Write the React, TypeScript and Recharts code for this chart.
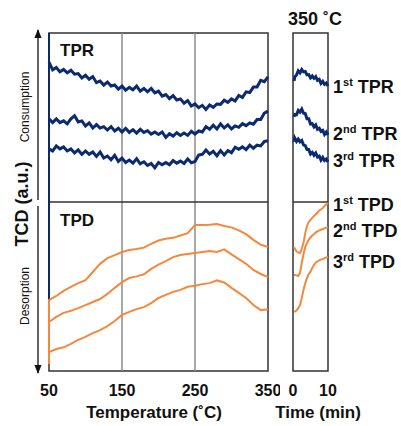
import React from 'react';
import { LineChart, Line, XAxis, YAxis, ReferenceLine, ReferenceArea } from 'recharts';

// ---- Temperature-programmed part (x: temperature in °C) ----
const tempTicks = [50, 150, 250, 350];
const tprTemp = [50,55,60,65,70,75,80,85,90,95,100,105,110,115,120,125,130,135,140,145,150,155,160,165,170,175,180,185,190,195,200,205,210,215,220,225,230,235,240,245,250,255,260,265,270,275,280,285,290,295,300,305,310,315,320,325,330,335,340,345,350];
const tpr1 = [91.4,89.1,89.8,88.5,89.2,88.2,89.0,87.8,88.0,86.7,87.5,86.3,87.1,85.3,85.8,84.6,85.5,84.3,84.6,83.4,84.3,83.1,83.9,83.2,84.3,82.8,83.6,82.6,83.6,82.3,82.8,81.3,81.8,80.6,81.5,80.2,80.5,79.2,80.0,78.4,79.0,77.9,78.6,77.4,78.7,78.0,79.0,78.9,80.1,79.5,80.5,79.9,81.5,80.9,82.6,82.4,84.0,84.0,86.0,85.6,87.0];
const tpr2 = [74.6,73.5,74.6,73.5,74.0,73.1,74.6,75.5,73.7,74.0,72.5,73.4,71.9,72.9,71.9,72.3,71.3,72.3,71.0,71.8,70.7,71.8,70.6,71.4,70.4,71.5,70.6,71.1,70.1,70.7,70.0,70.7,69.1,70.2,69.5,70.5,69.7,70.4,69.7,70.9,70.1,71.0,70.7,72.3,71.5,72.7,71.6,73.1,71.9,72.8,71.6,72.5,72.1,73.2,72.6,73.4,73.0,74.4,74.4,76.3,76.9];
const tpr3 = [65.7,65.1,66.6,65.7,66.3,65.1,65.7,64.5,65.4,64.1,65.1,64.1,64.8,63.5,64.8,63.0,63.6,62.5,63.8,62.0,63.0,61.7,62.4,61.5,62.8,61.3,61.9,60.8,61.4,60.1,61.7,61.0,61.7,61.0,62.3,61.5,62.1,61.4,62.7,61.6,62.0,63.9,64.1,65.4,64.2,65.0,63.7,65.2,63.9,65.2,64.6,66.2,65.6,66.3,65.5,66.8,65.9,66.8,66.6,67.9,68.1];

const tpdTemp = [50,50,60,70,80,90,100,110,120,130,140,150,160,170,180,190,200,210,220,230,240,250,260,270,280,290,300,310,320,330,340,350];
const tpd1 = [2.1,21.0,22.2,23.7,24.9,26.0,26.9,29.3,31.7,33.4,34.3,35.2,35.8,36.1,36.5,37.6,38.6,39.1,39.4,40.1,40.8,43.2,43.2,43.3,43.5,42.9,42.5,41.6,40.5,38.8,37.4,36.7];
const tpd2 = [14.5,14.5,16.0,17.2,17.8,18.6,19.5,20.4,21.3,22.8,24.6,26.3,27.5,28.0,28.6,30.2,31.5,32.5,33.7,34.3,34.6,34.9,35.2,35.5,35.2,36.0,34.5,33.1,31.7,29.9,28.7,27.8];
const tpd3 = [2.1,5.6,6.5,7.0,8.0,9.2,10.1,11.2,12.1,13.3,14.8,16.6,17.5,18.3,18.9,20.1,21.6,22.5,23.4,24.0,24.9,25.2,25.7,26.0,26.8,26.2,24.6,23.1,21.6,19.5,18.0,18.3];

// ---- Isothermal part at 350 °C (x: time in min) ----
const timeTicks = [0, 10];
const timeMin = [0.3,0.5,1,1.5,2,2.5,3,3.5,4,4.5,5,5.5,6,6.5,7,7.5,8,8.5,9,9.5,10];
const isoTpr1 = [85.8,87.0,87.6,88.8,88.2,89.2,88.5,88.6,87.6,87.7,86.7,87.3,86.6,87.1,86.0,86.3,85.1,85.7,84.8,85.2,84.3];
const isoTpr2 = [75.2,75.9,75.8,77.1,76.6,77.5,76.3,76.2,74.6,74.6,73.1,73.2,72.2,72.8,71.5,71.8,70.9,71.2,70.0,70.7,69.8];
const isoTpr3 = [67.8,68.9,67.9,68.6,67.8,68.2,66.9,66.7,65.5,65.5,64.2,64.7,63.8,64.5,63.3,63.6,62.4,63.2,62.3,62.7,61.8];
const isoTpd1 = [36.7,36.2,35.4,35.1,34.9,36.1,37.9,40.8,42.9,44.1,44.7,45.3,45.9,46.3,46.9,47.5,47.8,48.2,48.8,49.3,49.7];
const isoTpd2 = [28.4,28.4,28.3,28.1,29.0,32.0,34.6,36.7,37.9,38.8,39.5,40.1,40.5,41.0,41.3,41.6,41.8,42.0,42.2,42.4,42.6];
const isoTpd3 = [17.5,17.6,17.9,18.6,19.5,21.6,24.0,26.0,27.5,28.7,29.4,30.5,31.4,32.1,32.4,32.7,33.0,33.1,33.4,33.6,33.7];

const seriesLabels = [
  { n: '1', sup: 'st', name: 'TPR' },
  { n: '2', sup: 'nd', name: 'TPR' },
  { n: '3', sup: 'rd', name: 'TPR' },
  { n: '1', sup: 'st', name: 'TPD' },
  { n: '2', sup: 'nd', name: 'TPD' },
  { n: '3', sup: 'rd', name: 'TPD' },
];

const NAVY = '#0b2a6f';
const ORANGE = '#f4883c';
const FRAME = '#333';
const FONT = '"Liberation Sans", Arial, Helvetica, sans-serif';

const tprData = tprTemp.map((T, i) => ({ T, a: tpr1[i], b: tpr2[i], c: tpr3[i] }));
const tpdData = tpdTemp.map((T, i) => ({ T, a: tpd1[i], b: tpd2[i], c: tpd3[i] }));
const isoData = timeMin.map((t, i) => ({
  t, ra: isoTpr1[i], rb: isoTpr2[i], rc: isoTpr3[i], da: isoTpd1[i], db: isoTpd2[i], dc: isoTpd3[i],
}));

const tickStyle = { fontSize: 16, fontWeight: 'bold', fill: '#111', fontFamily: FONT } as any;

const labelY = [93, 140, 167, 211, 237, 268];

const TPR_W = 3;
const TPD_W = 2;

export default function App() {
  return (
    <div style={{ position: 'absolute', left: 0, top: 0, width: 401, height: 426, background: '#fff', fontFamily: FONT }}>
      <div style={{ position: 'absolute', left: 0, top: 0 }}>
        <LineChart width={280} height={400} margin={{ top: 33, left: 49, right: 12, bottom: 0 }}>
          <XAxis type="number" dataKey="T" domain={[50, 350]} ticks={tempTicks}
            height={29} axisLine={false} tickLine={false} tickSize={6} tickMargin={8} tick={tickStyle} interval={0} />
          <YAxis type="number" domain={[0, 100]} hide />
          <ReferenceArea x1={50} x2={350} y1={0} y2={100} fill="none" fillOpacity={0} stroke={FRAME} strokeWidth={1.5} />
          <ReferenceLine x={150} stroke="#8c8c8c" strokeWidth={1.5} />
          <ReferenceLine x={250} stroke="#8c8c8c" strokeWidth={1.5} />
          <ReferenceLine y={50} stroke={FRAME} strokeWidth={1.5} />
          <ReferenceLine segment={[{ x: 50, y: 21 }, { x: 50, y: 100 }]} stroke={NAVY} strokeWidth={2} />
          <Line data={tprData} dataKey="a" stroke={NAVY} strokeWidth={TPR_W} dot={false} isAnimationActive={false} />
          <Line data={tprData} dataKey="b" stroke={NAVY} strokeWidth={TPR_W} dot={false} isAnimationActive={false} />
          <Line data={tprData} dataKey="c" stroke={NAVY} strokeWidth={TPR_W} dot={false} isAnimationActive={false} />
          <Line data={tpdData} dataKey="a" stroke={ORANGE} strokeWidth={TPD_W} dot={false} isAnimationActive={false} />
          <Line data={tpdData} dataKey="b" stroke={ORANGE} strokeWidth={TPD_W} dot={false} isAnimationActive={false} />
          <Line data={tpdData} dataKey="c" stroke={ORANGE} strokeWidth={TPD_W} dot={false} isAnimationActive={false} />
        </LineChart>
      </div>
      <div style={{ position: 'absolute', left: 250, top: 0 }}>
        <LineChart width={151} height={400} data={isoData} margin={{ top: 33, left: 43, right: 73, bottom: 0 }}>
          <XAxis type="number" dataKey="t" domain={[0, 10]} ticks={timeTicks}
            height={29} axisLine={false} tickLine={false} tickSize={6} tickMargin={8} tick={tickStyle} interval={0} />
          <YAxis type="number" domain={[0, 100]} hide />
          <ReferenceArea x1={0} x2={10} y1={0} y2={100} fill="none" fillOpacity={0} stroke={FRAME} strokeWidth={1.5} />
          <ReferenceLine y={50} stroke={FRAME} strokeWidth={1.5} />
          <Line dataKey="ra" stroke={NAVY} strokeWidth={TPR_W} dot={false} isAnimationActive={false} />
          <Line dataKey="rb" stroke={NAVY} strokeWidth={TPR_W} dot={false} isAnimationActive={false} />
          <Line dataKey="rc" stroke={NAVY} strokeWidth={TPR_W} dot={false} isAnimationActive={false} />
          <Line dataKey="da" stroke={ORANGE} strokeWidth={TPD_W} dot={false} isAnimationActive={false} />
          <Line dataKey="db" stroke={ORANGE} strokeWidth={TPD_W} dot={false} isAnimationActive={false} />
          <Line dataKey="dc" stroke={ORANGE} strokeWidth={TPD_W} dot={false} isAnimationActive={false} />
        </LineChart>
      </div>
      <svg width={401} height={426} style={{ position: 'absolute', left: 0, top: 0, pointerEvents: 'none' }}
        fontFamily={FONT}>
        <defs>
          <marker id="arrowHead" viewBox="0 0 10 10" refX="9" refY="5" markerWidth="7" markerHeight="7" orient="auto-start-reverse">
            <path d="M0,1 L10,5 L0,9 z" fill="#111" />
          </marker>
        </defs>
        <line x1={38} y1={200} x2={38} y2={30} stroke="#111" strokeWidth={1.3} markerEnd="url(#arrowHead)" />
        <line x1={38} y1={206} x2={38} y2={373} stroke="#111" strokeWidth={1.3} markerEnd="url(#arrowHead)" />
        <text transform="translate(28,204) rotate(-90)" textAnchor="middle" fontSize={18} fontWeight="bold" fill="#111">TCD (a.u.)</text>
        <text transform="translate(29,107) rotate(-90)" textAnchor="middle" fontSize={12} fill="#111">Consumption</text>
        <text transform="translate(29,296) rotate(-90)" textAnchor="middle" fontSize={12} fill="#111">Desorption</text>
        <text x={60} y={56} fontSize={17} fontWeight="bold" fill="#111">TPR</text>
        <text x={60} y={226} fontSize={17} fontWeight="bold" fill="#111">TPD</text>
        <text x={315} y={25} textAnchor="middle" fontSize={18} fontWeight="bold" fill="#111">350 ˚C</text>
        <text x={154} y={418} textAnchor="middle" fontSize={17} fontWeight="bold" fill="#111">Temperature (˚C)</text>
        <text x={318} y={418} textAnchor="middle" fontSize={17} fontWeight="bold" fill="#111">Time (min)</text>
        {seriesLabels.map((s, i) => (
          <text key={i} x={333} y={labelY[i]} fontSize={18} fontWeight="bold" fill="#111">
            {s.n}
            <tspan fontSize={11} dy={-7}>{s.sup}</tspan>
            <tspan dy={7}>{' ' + s.name}</tspan>
          </text>
        ))}
      </svg>
    </div>
  );
}
